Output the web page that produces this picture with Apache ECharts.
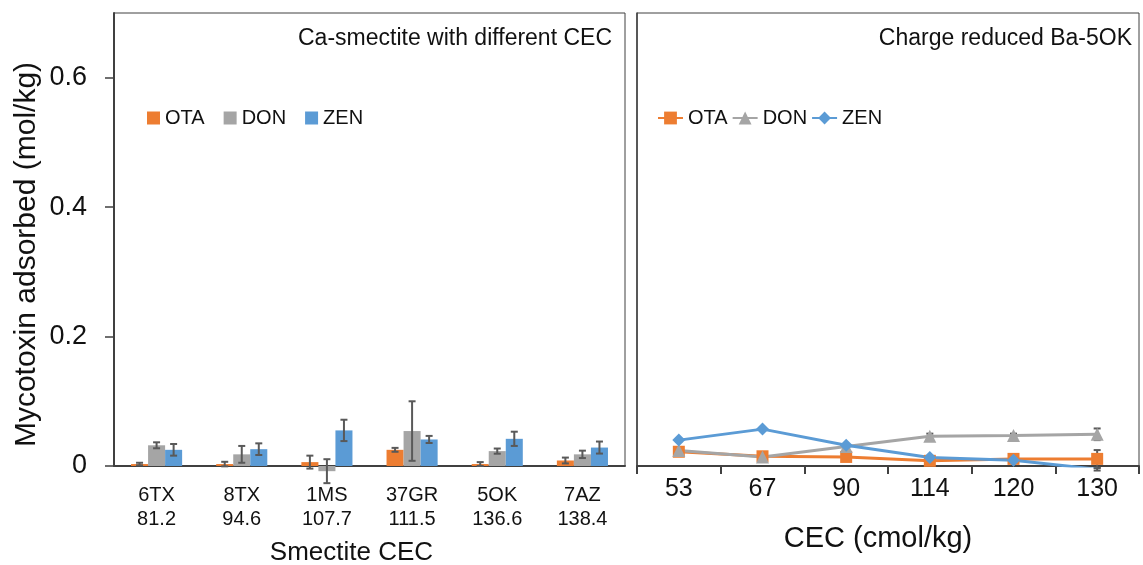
<!DOCTYPE html>
<html>
<head>
<meta charset="utf-8">
<title>Mycotoxin adsorption on smectites</title>
<script src="https://cdn.jsdelivr.net/npm/echarts@6.0.0/dist/echarts.min.js"></script>
<style>
  html, body { margin: 0; padding: 0; background: #ffffff; }
  #chart { width: 1143px; height: 565px; }
</style>
</head>
<body>
<div id="chart"></div>
<script>
// Left panel: Ca-smectites, labelled by name and CEC
const smectites = ['6TX', '8TX', '1MS', '37GR', '5OK', '7AZ'];
const smectiteCEC = ['81.2', '94.6', '107.7', '111.5', '136.6', '138.4'];

const otaCa = [0.003, 0.003, 0.006, 0.025, 0.003, 0.0085];
const otaCaErr = [0.002, 0.0035, 0.010, 0.003, 0.003, 0.0045];
const donCa = [0.032, 0.018, -0.008, 0.054, 0.023, 0.018];
const donCaErr = [0.0046, 0.013, 0.0185, 0.046, 0.004, 0.0057];
const zenCa = [0.025, 0.026, 0.055, 0.041, 0.042, 0.0285];
const zenCaErr = [0.009, 0.009, 0.0165, 0.0055, 0.011, 0.0093];

// Right panel: charge-reduced Ba-5OK, CEC in cmol/kg
const reducedCEC = ['53', '67', '90', '114', '120', '130'];

const otaBa = [0.022, 0.015, 0.014, 0.008, 0.011, 0.011];
const otaBaErr = [0.004, 0.002, 0.002, 0.002, 0.002, 0.0136];
const donBa = [0.024, 0.014, 0.030, 0.046, 0.047, 0.049];
const donBaErr = [0.003, 0.002, 0.002, 0.004, 0.003, 0.009];
const zenBa = [0.040, 0.057, 0.032, 0.013, 0.009, -0.005];
const zenBaErr = [0.002, 0.002, 0.002, 0.002, 0.002, 0.002];

const yTicks = [0, 0.2, 0.4, 0.6];
const yMax = 0.7;

const toxins = ['OTA', 'DON', 'ZEN'];
const colors = ['#ED7D31', '#A5A5A5', '#5B9BD5'];

const FONT = "'Liberation Sans', Arial, Helvetica, sans-serif";
const INK = '#111111';
const AXIS = '#404040';
const ERR = '#595959';

// Error bar rows: [categoryIndex, low, high, seriesIndex]
function errorRows(values, errs, seriesIdx) {
  return values.map((v, i) => [i, v - errs[i], v + errs[i], seriesIdx]);
}

const caErrData = []
  .concat(errorRows(otaCa, otaCaErr, 0))
  .concat(errorRows(donCa, donCaErr, 1))
  .concat(errorRows(zenCa, zenCaErr, 2));

const baErrData = []
  .concat(errorRows(otaBa, otaBaErr, 0))
  .concat(errorRows(donBa, donBaErr, 1))
  .concat(errorRows(zenBa, zenBaErr, 2));

// Whisker with caps; groupShift offsets it onto the matching bar of a cluster
function whisker(api, groupShift) {
  const cat = api.value(0);
  const s = api.value(3);
  const lo = api.coord([cat, api.value(1)]);
  const hi = api.coord([cat, api.value(2)]);
  let x = lo[0];
  if (groupShift) {
    const band = api.size([1, 0])[0];
    const bw = band * 0.6 / 3;
    x += (s - 1) * bw;
  }
  const cap = 3.5;
  const style = { stroke: ERR, lineWidth: 2 };
  return {
    type: 'group',
    children: [
      { type: 'line', shape: { x1: x, y1: lo[1], x2: x, y2: hi[1] }, style },
      { type: 'line', shape: { x1: x - cap, y1: lo[1], x2: x + cap, y2: lo[1] }, style },
      { type: 'line', shape: { x1: x - cap, y1: hi[1], x2: x + cap, y2: hi[1] }, style }
    ]
  };
}

const chart = echarts.init(document.getElementById('chart'), null, { renderer: 'canvas' });

const lineSymbols = ['rect', 'triangle', 'diamond'];
const baSeriesData = [otaBa, donBa, zenBa];
const caSeriesData = [otaCa, donCa, zenCa];

const option = {
  backgroundColor: '#ffffff',
  animation: false,
  textStyle: { fontFamily: FONT, color: INK },
  title: [
    {
      text: 'Ca-smectite with different CEC',
      right: 531, top: 27, padding: 0,
      textStyle: { fontFamily: FONT, fontSize: 23, fontWeight: 'normal', color: INK }
    },
    {
      text: 'Charge reduced Ba-5OK',
      right: 11, top: 27, padding: 0,
      textStyle: { fontFamily: FONT, fontSize: 23, fontWeight: 'normal', color: INK }
    }
  ],
  legend: [
    {
      data: toxins.map(n => ({ name: n, icon: 'rect' })),
      left: 147, top: 108, padding: 0,
      itemWidth: 13, itemHeight: 13, itemGap: 19,
      textStyle: { fontFamily: FONT, fontSize: 20, color: INK }
    },
    {
      data: toxins.map(n => n + ' (Ba-5OK)'),
      formatter: name => name.split(' ')[0],
      left: 657, top: 108, padding: 0,
      itemWidth: 25, itemHeight: 16, itemGap: 4,
      textStyle: { fontFamily: FONT, fontSize: 20, color: INK }
    }
  ],
  grid: [
    { left: 114, right: 518, top: 13, bottom: 99, show: true, borderColor: AXIS, borderWidth: 1, containLabel: false, outerBoundsMode: 'none' },
    { left: 637, right: 4, top: 13, bottom: 99, show: true, borderColor: AXIS, borderWidth: 1, containLabel: false, outerBoundsMode: 'none' }
  ],
  xAxis: [
    {
      type: 'category', gridIndex: 0,
      data: smectites.map((s, i) => s + '\n' + smectiteCEC[i]),
      axisLine: { lineStyle: { color: AXIS, width: 2 } },
      axisTick: { show: false },
      axisLabel: { fontFamily: FONT, fontSize: 20, lineHeight: 24, color: INK, margin: 17, interval: 0 },
      name: 'Smectite CEC', nameLocation: 'middle', nameGap: 74,
      nameTextStyle: { fontFamily: FONT, fontSize: 26, color: INK, padding: [0, 36, 0, 0] }
    },
    {
      type: 'category', gridIndex: 1,
      data: reducedCEC,
      boundaryGap: true,
      axisLine: { lineStyle: { color: AXIS, width: 2 } },
      axisTick: { show: true, alignWithLabel: false, length: 8, lineStyle: { color: AXIS, width: 2 } },
      axisLabel: { fontFamily: FONT, fontSize: 25, color: INK, margin: 11, interval: 0 },
      name: 'CEC (cmol/kg)', nameLocation: 'middle', nameGap: 58,
      nameTextStyle: { fontFamily: FONT, fontSize: 29, color: INK, padding: [0, 20, 0, 0] }
    }
  ],
  yAxis: [
    {
      type: 'value', gridIndex: 0, min: 0, max: yMax, interval: 0.2,
      axisLine: { show: true, lineStyle: { color: AXIS, width: 2 } },
      axisTick: { show: true, length: 9, lineStyle: { color: AXIS, width: 1.5 }, customValues: yTicks },
      axisLabel: { fontFamily: FONT, fontSize: 27, color: INK, margin: 27, customValues: yTicks },
      splitLine: { show: false },
      name: 'Mycotoxin adsorbed (mol/kg)', nameLocation: 'middle', nameGap: 72,
      nameTextStyle: { fontFamily: FONT, fontSize: 30, color: INK, padding: [0, 30, 0, 0] }
    },
    {
      type: 'value', gridIndex: 1, min: 0, max: yMax, interval: 0.2,
      axisLine: { show: true, lineStyle: { color: AXIS, width: 1.5 } },
      axisTick: { show: false },
      axisLabel: { show: false },
      splitLine: { show: false }
    }
  ],
  series: [
    ...toxins.map((n, i) => ({
      name: n, type: 'bar', xAxisIndex: 0, yAxisIndex: 0,
      data: caSeriesData[i],
      barGap: '0%', barCategoryGap: '40%',
      clip: false,
      itemStyle: { color: colors[i] },
      z: 2
    })),
    {
      type: 'custom', xAxisIndex: 0, yAxisIndex: 0,
      data: caErrData,
      renderItem: (params, api) => whisker(api, true),
      clip: false, silent: true, z: 3
    },
    {
      type: 'custom', xAxisIndex: 1, yAxisIndex: 1,
      data: baErrData,
      renderItem: (params, api) => whisker(api, false),
      clip: false, silent: true, z: 1
    },
    ...toxins.map((n, i) => ({
      name: n + ' (Ba-5OK)', type: 'line', xAxisIndex: 1, yAxisIndex: 1,
      data: baSeriesData[i],
      symbol: lineSymbols[i],
      symbolSize: i === 0 ? 12 : 13,
      showAllSymbol: true,
      clip: true,
      lineStyle: { color: colors[i], width: 3 },
      itemStyle: { color: colors[i] },
      z: 2
    }))
  ]
};

chart.setOption(option);
</script>
</body>
</html>
